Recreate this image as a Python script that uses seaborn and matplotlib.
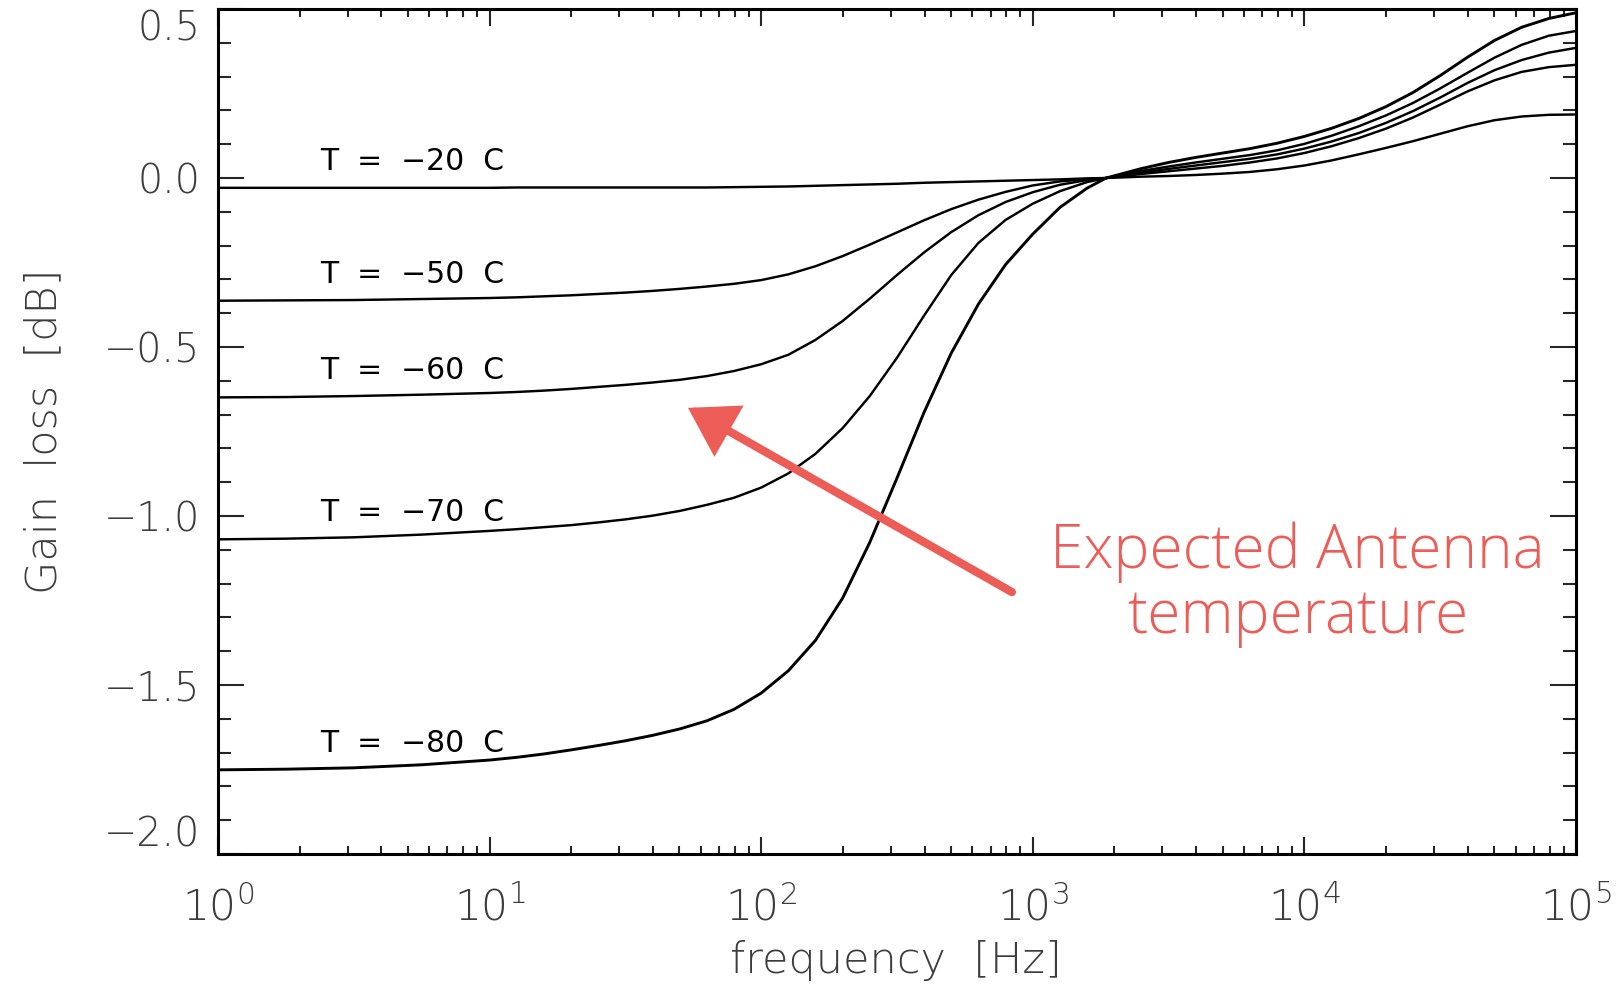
import numpy as np
import pandas as pd
import matplotlib
matplotlib.use("Agg")
import matplotlib.pyplot as plt
import seaborn as sns
from matplotlib.ticker import MultipleLocator, LogLocator, NullFormatter

# Sample frequencies, given as decades: f = 10**exponent [Hz]
freq_exp = [0.0, 0.25, 0.5, 0.75, 1.0, 1.1, 1.2, 1.3, 1.4, 1.5, 1.6, 1.7, 1.8, 1.9,
            2.0, 2.1, 2.2, 2.3, 2.4, 2.5, 2.6, 2.7, 2.8, 2.9, 3.0, 3.1, 3.2, 3.27,
            3.4, 3.5, 3.6, 3.7, 3.8, 3.9, 4.0, 4.1, 4.2, 4.3, 4.4, 4.5, 4.6, 4.7,
            4.8, 4.9, 5.0]

# Gain loss [dB] for each antenna temperature
gain_m20 = [-0.029, -0.029, -0.029, -0.029, -0.029, -0.028, -0.028, -0.028, -0.028,
            -0.028, -0.028, -0.028, -0.028, -0.027, -0.026, -0.025, -0.023, -0.021,
            -0.019, -0.017, -0.014, -0.012, -0.010, -0.008, -0.006, -0.004, -0.001,
            0.0, 0.004, 0.006, 0.009, 0.013, 0.018, 0.026, 0.037, 0.052, 0.070,
            0.089, 0.109, 0.131, 0.153, 0.171, 0.182, 0.187, 0.188]
gain_m50 = [-0.363, -0.362, -0.361, -0.358, -0.355, -0.353, -0.350, -0.347, -0.343,
            -0.339, -0.334, -0.328, -0.321, -0.313, -0.302, -0.285, -0.261, -0.231,
            -0.197, -0.161, -0.125, -0.092, -0.064, -0.041, -0.022, -0.010, -0.003,
            0.0, 0.012, 0.020, 0.028, 0.036, 0.046, 0.058, 0.074, 0.094, 0.118,
            0.146, 0.179, 0.217, 0.256, 0.289, 0.314, 0.328, 0.335]
gain_m60 = [-0.649, -0.648, -0.645, -0.641, -0.636, -0.633, -0.629, -0.624, -0.618,
            -0.612, -0.605, -0.597, -0.586, -0.571, -0.551, -0.523, -0.479, -0.423,
            -0.357, -0.287, -0.220, -0.160, -0.110, -0.071, -0.042, -0.020, -0.006,
            0.0, 0.016, 0.027, 0.037, 0.047, 0.057, 0.070, 0.087, 0.108, 0.133,
            0.163, 0.198, 0.238, 0.281, 0.319, 0.349, 0.371, 0.385]
gain_m70 = [-1.069, -1.067, -1.063, -1.055, -1.044, -1.039, -1.033, -1.027, -1.019,
            -1.010, -0.999, -0.985, -0.967, -0.946, -0.916, -0.874, -0.816, -0.740,
            -0.645, -0.532, -0.407, -0.287, -0.192, -0.124, -0.076, -0.039, -0.012,
            0.0, 0.021, 0.034, 0.046, 0.057, 0.068, 0.082, 0.101, 0.125, 0.153,
            0.185, 0.222, 0.265, 0.311, 0.356, 0.394, 0.421, 0.435]
gain_m80 = [-1.751, -1.749, -1.745, -1.736, -1.722, -1.714, -1.704, -1.692, -1.679,
            -1.665, -1.649, -1.630, -1.606, -1.572, -1.524, -1.458, -1.368, -1.243,
            -1.078, -0.888, -0.693, -0.518, -0.373, -0.256, -0.166, -0.087, -0.030,
            0.0, 0.028, 0.046, 0.061, 0.074, 0.087, 0.103, 0.123, 0.147, 0.176,
            0.211, 0.253, 0.303, 0.357, 0.407, 0.446, 0.472, 0.489]

labels = ["T = \u221220 C", "T = \u221250 C", "T = \u221260 C", "T = \u221270 C", "T = \u221280 C"]
series = [gain_m20, gain_m50, gain_m60, gain_m70, gain_m80]
label_y = [0.024, -0.311, -0.596, -1.015, -1.697]
label_x = 2.37

yticks = [-2.0, -1.5, -1.0, -0.5, 0.0, 0.5]
ytick_labels = ["\u22122.0", "\u22121.5", "\u22121.0", "\u22120.5", "0.0", "0.5"]
xticks = [1, 10, 100, 1000, 10000, 100000]
xtick_labels = [r"$\mathregular{10^{%d}}$" % i for i in range(6)]

sns.set_theme(style="ticks")
plt.rcParams["font.family"] = ["DejaVu Sans"]
plt.rcParams["mathtext.fontset"] = "dejavusans"

fig = plt.figure(figsize=(16.18, 9.92), dpi=100)
ax = fig.add_axes([0.1347, 0.1391, 0.8393, 0.8518])

freq = [10 ** e for e in freq_exp]
rows = []
for lab, vals in zip(labels, series):
    for f, v in zip(freq, vals):
        rows.append({"freq": f, "gain": v, "curve": lab})
df = pd.DataFrame(rows)

for lab in labels:
    sub = df[df["curve"] == lab]
    lw = 2.1 if lab.endswith("80 C") else 1.75
    sns.lineplot(data=sub, x="freq", y="gain", color="black", lw=lw, ax=ax,
                 legend=False, estimator=None, sort=True)
for ln in ax.get_lines():
    ln.set_solid_joinstyle("round")

ax.set_xscale("log")
ax.set_xlim(1, 1e5)
ax.set_ylim(-2.0, 0.5)

for lab, ly in zip(labels, label_y):
    ax.text(label_x, ly, lab.replace(" ", "  "), fontsize=21.5, color="black",
            ha="left", va="baseline")

tick_grey = "#3c3c3c"
ax.set_yticks(yticks)
ax.set_yticklabels(ytick_labels)
ax.yaxis.set_minor_locator(MultipleLocator(0.1))
ax.set_xticks(xticks)
ax.set_xticklabels(xtick_labels)
ax.xaxis.set_minor_locator(LogLocator(base=10, subs=np.arange(2, 10), numticks=20))
ax.xaxis.set_minor_formatter(NullFormatter())
ax.tick_params(axis="y", which="major", direction="in", length=19, width=1.5,
               left=True, right=True, labelsize=28.5, pad=13, labelcolor=tick_grey)
ax.tick_params(axis="y", which="minor", direction="in", length=9.5, width=1.5,
               left=True, right=True)
ax.tick_params(axis="x", which="major", direction="in", length=12.5, width=1.5,
               bottom=True, top=True, labelsize=30.5, pad=23, labelcolor=tick_grey)
ax.tick_params(axis="x", which="minor", direction="in", length=6, width=1.5,
               bottom=True, top=True)
for t in ax.get_xticklabels() + ax.get_yticklabels():
    t.set_fontweight(200)
# end labels sit inside the axis range
ylabs = ax.get_yticklabels()
ylabs[0].set_va("bottom")
ylabs[-1].set_va("top")

for s in ax.spines.values():
    s.set_linewidth(2.2)
    s.set_color("black")
    s.set_visible(True)

ax.set_xlabel("frequency  [Hz]", fontsize=31, color=tick_grey, fontweight=200)
ax.set_ylabel("Gain  loss  [dB]", fontsize=31, color=tick_grey, fontweight=200)
ax.xaxis.set_label_coords(0.499, -0.102)
ax.yaxis.set_label_coords(-0.113, 0.5)

red = "#EC5D58"
ax.annotate("", xy=(53.8, -0.68), xytext=(838, -1.225),
            arrowprops=dict(arrowstyle="-|>,head_length=1.15,head_width=0.72",
                            mutation_scale=22, lw=6, color=red,
                            shrinkA=0, shrinkB=0, joinstyle="miter"))

ax.text(0.795, 0.3385, "Expected Antenna", transform=ax.transAxes,
        fontsize=43.5, color=red, ha="center", va="baseline", family="Open Sans",
        fontweight="light")
ax.text(0.795, 0.2615, "temperature", transform=ax.transAxes,
        fontsize=43.5, color=red, ha="center", va="baseline", family="Open Sans",
        fontweight="light")

fig.savefig("out.png", dpi=100)
